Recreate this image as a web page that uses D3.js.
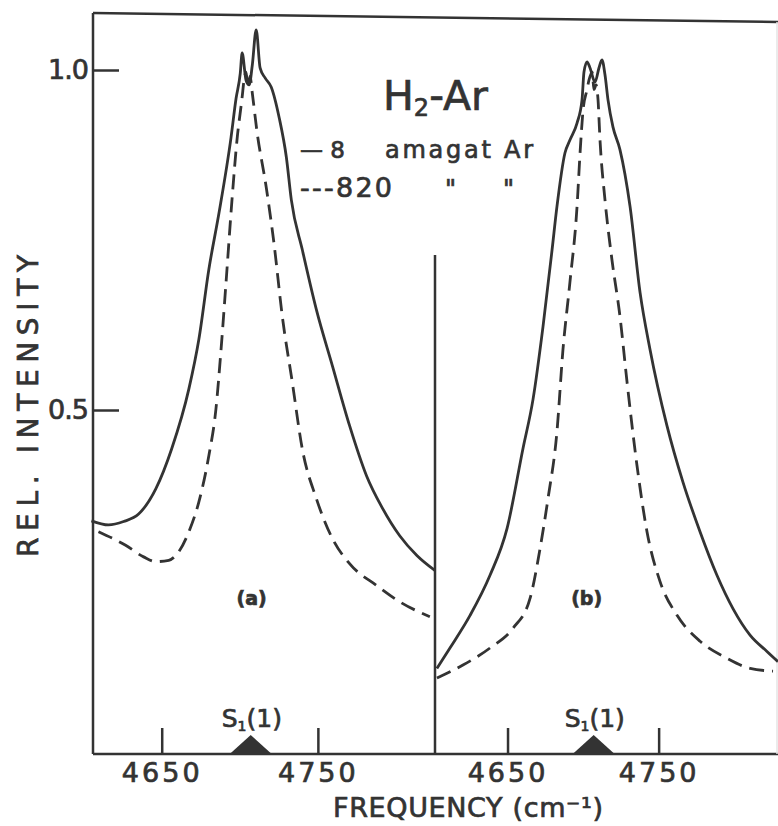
<!DOCTYPE html>
<html>
<head>
<meta charset="utf-8">
<script src="https://cdn.jsdelivr.net/npm/d3@7"></script>
<style>
  html, body { margin: 0; padding: 0; background: #fff; }
  svg { display: block; }
  text { font-family: "DejaVu Sans", sans-serif; fill: #333; stroke: #333; stroke-width: 0.7; }
</style>
</head>
<body>
<svg id="chart" width="778" height="826"></svg>
<script>
// ---------- data ----------
const xTicks = [4650, 4750];
const yTicks = [0.5, 1.0];
const domainA = [4606, 4825];   // frequency span of panel (a), cm^-1
const domainB = [4602, 4829];   // frequency span of panel (b), cm^-1
const lineS1 = 4707;            // S1(1) line position
const panelLabels = ["(a)", "(b)"];

// panel (a): 8 amagat (solid)
const solidA = [
  [4605, 0.337], [4615.9, 0.331], [4625.6, 0.336], [4635.2, 0.347], [4646.2, 0.384],
  [4656.4, 0.443], [4667.4, 0.531], [4673.8, 0.604], [4680.2, 0.707], [4686.7, 0.790],
  [4694.4, 0.901], [4697.6, 0.958], [4700.3, 0.995], [4701.5, 1.025], [4704, 0.985],
  [4706, 0.978], [4708, 1.007], [4710.5, 1.059], [4713, 1.003], [4716.3, 0.988],
  [4720.1, 0.975], [4725.3, 0.929], [4729.8, 0.872], [4733, 0.809], [4740, 0.736],
  [4749, 0.648], [4759.3, 0.565], [4770.3, 0.477], [4781.2, 0.403], [4791.5, 0.355],
  [4802.4, 0.315], [4813.4, 0.286], [4824.9, 0.264]
];
// panel (a): 820 amagat (dashed)
const dashA = [
  [4609.5, 0.321], [4626.9, 0.301], [4638.4, 0.284], [4646.2, 0.277], [4654.5, 0.279],
  [4659, 0.286], [4667.4, 0.321], [4673.8, 0.365], [4680.2, 0.433], [4684.7, 0.501],
  [4688, 0.589], [4691.2, 0.688], [4695, 0.809], [4698.2, 0.897], [4701.5, 0.960],
  [4702.7, 0.985], [4704, 0.997], [4705.3, 0.974], [4706.6, 0.991], [4707.9, 0.968],
  [4711.1, 0.908], [4716.9, 0.828], [4722, 0.743], [4727.2, 0.638], [4733.6, 0.541],
  [4740, 0.443], [4749, 0.370], [4759.3, 0.311], [4770.3, 0.274], [4787.6, 0.242],
  [4802.4, 0.218], [4821.7, 0.196]
];
// panel (b): 8 amagat (solid)
const solidB = [
  [4603.3, 0.120], [4611.9, 0.150], [4625.2, 0.198], [4638.4, 0.257], [4649.7, 0.326],
  [4660.2, 0.443], [4666.9, 0.516], [4673.5, 0.623], [4679.5, 0.736], [4682.7, 0.799],
  [4688, 0.878], [4691.3, 0.897], [4696, 0.922], [4699.3, 0.956], [4700.6, 0.997],
  [4702.6, 1.012], [4704.6, 1.003], [4707.9, 0.982], [4710.5, 1.003], [4712.5, 1.015],
  [4714.5, 0.993], [4716.5, 0.956], [4719.8, 0.916], [4724.4, 0.883], [4731.1, 0.799],
  [4737.7, 0.673], [4744.3, 0.589], [4755.5, 0.477], [4766.1, 0.394], [4777.4, 0.321],
  [4788.6, 0.257], [4799.2, 0.208], [4810.5, 0.169], [4821.7, 0.145], [4829, 0.130]
];
// panel (b): 820 amagat (dashed)
const dashB = [
  [4603.3, 0.106], [4620.5, 0.125], [4638.4, 0.150], [4653.6, 0.179], [4664.9, 0.223],
  [4671.5, 0.296], [4676.8, 0.370], [4682.7, 0.468], [4686.7, 0.589], [4691.3, 0.688],
  [4696, 0.799], [4698, 0.878], [4700, 0.941], [4702.6, 0.971], [4703.9, 0.985],
  [4706, 0.997], [4707.2, 0.971], [4708.6, 0.978], [4709.9, 0.956], [4711.2, 0.897],
  [4714.5, 0.809], [4719.1, 0.721], [4724.4, 0.638], [4729.1, 0.541], [4735.7, 0.418],
  [4742.3, 0.321], [4750.9, 0.248], [4762.2, 0.198], [4777.4, 0.160], [4795.2, 0.135],
  [4810.5, 0.120], [4825.7, 0.116]
];

// ---------- layout ----------
const ink = "#333";
const svg = d3.select("#chart");
const left = 93, mid = 435, right = 778, bottom = 754;
const y = d3.scaleLinear().domain([0, 1]).range([750, 70]);
const xA = d3.scaleLinear().domain(domainA).range([left, mid]);
const xB = d3.scaleLinear().domain(domainB).range([mid, right]);

// frame
const topL = 13, topR = 22;
svg.append("line").attr("x1", left).attr("y1", topL).attr("x2", right).attr("y2", topR)
  .attr("stroke", ink).attr("stroke-width", 2.5);
svg.append("line").attr("x1", left).attr("y1", topL).attr("x2", left).attr("y2", bottom)
  .attr("stroke", ink).attr("stroke-width", 2.5);
svg.append("line").attr("x1", left).attr("y1", bottom).attr("x2", right).attr("y2", bottom)
  .attr("stroke", ink).attr("stroke-width", 2.5);
svg.append("line").attr("x1", mid).attr("y1", 255).attr("x2", mid).attr("y2", bottom)
  .attr("stroke", ink).attr("stroke-width", 2.5);
svg.append("line").attr("x1", right - 1).attr("y1", topR).attr("x2", right - 1).attr("y2", bottom)
  .attr("stroke", "#e4e4e4").attr("stroke-width", 1.5);

// y axis
const yAxis = d3.axisLeft(y).tickValues(yTicks).tickFormat(d3.format(".1f"))
  .tickSizeInner(-26).tickSizeOuter(0).tickPadding(5);
const gy = svg.append("g").attr("transform", `translate(${left},0)`).call(yAxis);
gy.select(".domain").remove();
gy.selectAll("line").attr("stroke", ink).attr("stroke-width", 2.5);
gy.selectAll("text").attr("font-size", 27).attr("fill", ink)
  .attr("font-family", "DejaVu Sans").attr("letter-spacing", -1);

// x axes
[xA, xB].forEach(x => {
  const ax = d3.axisBottom(x).tickValues(xTicks).tickFormat(d3.format("d"))
    .tickSizeInner(-26).tickSizeOuter(0).tickPadding(9);
  const g = svg.append("g").attr("transform", `translate(0,${bottom})`).call(ax);
  g.select(".domain").remove();
  g.selectAll("line").attr("stroke", ink).attr("stroke-width", 2.5);
  g.selectAll("text").attr("font-size", 27).attr("fill", ink)
    .attr("font-family", "DejaVu Sans").attr("letter-spacing", 3);
});

// curves
const mk = x => d3.line().x(d => x(d[0])).y(d => y(d[1])).curve(d3.curveMonotoneX);
const curves = [
  { data: solidA, x: xA, dash: null },
  { data: dashA, x: xA, dash: "15,8" },
  { data: solidB, x: xB, dash: null },
  { data: dashB, x: xB, dash: "15,8" }
];
curves.forEach(c => {
  svg.append("path").datum(c.data).attr("d", mk(c.x))
    .attr("fill", "none").attr("stroke", ink).attr("stroke-width", 2.8)
    .attr("stroke-linejoin", "round")
    .attr("stroke-dasharray", c.dash);
});

// S1(1) markers and labels
[xA, xB].forEach((x, i) => {
  const cx = x(lineS1);
  svg.append("path")
    .attr("d", `M${cx - 21},${bottom} L${cx},${bottom - 19} L${cx + 21},${bottom} Z`)
    .attr("fill", ink);
  const t = svg.append("text").attr("x", cx - 29).attr("y", 727)
    .attr("font-size", 25).attr("fill", ink);
  t.append("tspan").text("S");
  t.append("tspan").attr("font-size", 14).attr("dy", 4).text("1");
  t.append("tspan").attr("dy", -4).text("(1)");
  svg.append("text").attr("x", x(lineS1) + (i === 0 ? 1 : -7)).attr("y", 605)
    .attr("text-anchor", "middle").attr("font-size", 19).attr("font-weight", "bold")
    .attr("stroke-width", 0.3)
    .attr("fill", ink).text(panelLabels[i]);
});

// axis titles
svg.append("text").attr("transform", "translate(38,406) rotate(-90)")
  .attr("text-anchor", "middle").attr("font-size", 28)
  .attr("textLength", 302).attr("lengthAdjust", "spacing")
  .text("REL. INTENSITY");
svg.append("text").attr("x", 333).attr("y", 817).attr("font-size", 27)
  .attr("textLength", 270).attr("lengthAdjust", "spacing")
  .text("FREQUENCY (cm\u207B\u00B9)");

// title
const ttl = svg.append("text").attr("x", 383).attr("y", 110).attr("font-size", 41);
ttl.append("tspan").text("H");
ttl.append("tspan").attr("font-size", 24).attr("dy", 6).text("2");
ttl.append("tspan").attr("dy", -6).text("-Ar");

// legend
svg.append("text").attr("x", 300).attr("y", 158).attr("font-size", 23)
  .attr("textLength", 45).attr("lengthAdjust", "spacing").text("\u20148");
svg.append("text").attr("x", 385).attr("y", 158).attr("font-size", 24)
  .attr("textLength", 148).attr("lengthAdjust", "spacing").text("amagat Ar");
svg.append("text").attr("x", 300).attr("y", 197).attr("font-size", 27)
  .attr("textLength", 92).attr("lengthAdjust", "spacing").text("---820");
svg.append("text").attr("x", 445).attr("y", 197).attr("font-size", 24).text("\"");
svg.append("text").attr("x", 503).attr("y", 197).attr("font-size", 24).text("\"");
</script>
</body>
</html>
